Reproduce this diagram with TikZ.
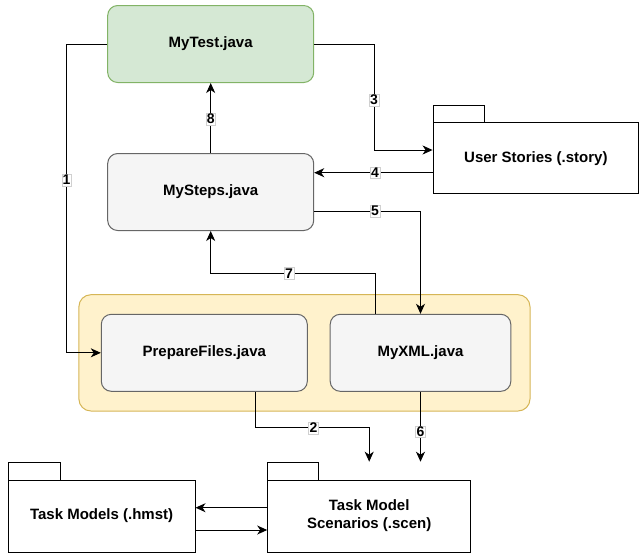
\documentclass[tikz,border=0pt]{standalone}
\usepackage{fontspec}
\setmainfont{Liberation Sans}
\usetikzlibrary{arrows.meta}
\definecolor{greenfill}{HTML}{D5E8D4}
\definecolor{greenline}{HTML}{82B366}
\definecolor{greyfill}{HTML}{F5F5F5}
\definecolor{greyline}{HTML}{666666}
\definecolor{yellowfill}{HTML}{FFF2CC}
\definecolor{yellowline}{HTML}{D6B656}
\definecolor{lblline}{HTML}{D0D0D0}
\begin{document}
\begin{tikzpicture}[x=1pt,y=-1pt,
  javabox/.style={draw=greyline, fill=greyfill, rounded corners=10pt, line width=1pt,
    minimum width=206pt, minimum height=77pt, inner sep=0pt, font=\fontsize{15}{17}\selectfont\bfseries},
  testbox/.style={javabox, draw=greenline, fill=greenfill},
  pkgbody/.style={draw=black, fill=white, line width=1pt, inner sep=0pt, align=center,
    font=\fontsize{15}{18}\selectfont\bfseries},
  pkgtab/.style={draw=black, fill=white, line width=1pt},
  conn/.style={draw=black, line width=1pt, -{Stealth[length=10pt,width=9pt,inset=3pt]}},
  lbl/.style={fill=white, draw=lblline, line width=0.4pt, inner sep=1pt,
    font=\fontsize{14}{15}\selectfont\bfseries}]
\useasboundingbox (0,0) rectangle (640,558);

% container
\draw[fill=yellowfill, draw=yellowline, line width=1pt, rounded corners=12pt]
  (78.9,294.7) rectangle (530,411);

% java nodes
\node[testbox] (MyTest) at (210.7,44) {MyTest.java};
\node[javabox] (MySteps) at (210.7,192) {MySteps.java};
\node[javabox] (Prep) at (204.3,352.8) {PrepareFiles.java};
\node[javabox, minimum width=180.6pt] (MyXML) at (420.5,352.8) {MyXML.java};

% packages
\draw[pkgtab] (433,105) rectangle (484.7,122.7);
\node[pkgbody, minimum width=205.7pt, minimum height=71.3pt] (US) at (535.9,158.3) {User Stories (.story)};
\draw[pkgtab] (8.2,462.3) rectangle (60,480);
\node[pkgbody, minimum width=186.8pt, minimum height=72pt] (TM) at (101.6,516) {Task Models (.hmst)};
\draw[pkgtab] (267.7,462.3) rectangle (318.8,480);
\node[pkgbody, minimum width=203pt, minimum height=72pt] (Scen) at (369.2,516) {Task Model\\Scenarios (.scen)};

% free ends
\coordinate (c1) at (66.6,44);
\coordinate (t2) at (369.2,461.7);
\coordinate (t6) at (420.5,461.7);

% connectors
\draw[conn] (MyTest.west) -- (c1) |- (Prep.west);
\draw[conn] (MyTest.east) -- (374,44) |- ([yshift=8.3pt]US.west);
\draw[conn] ([yshift=-14.4pt]US.west) -- ([yshift=19.3pt]MySteps.east);
\draw[conn] ([yshift=-19pt]MySteps.east) -| (MyXML.north);
\draw[conn] ([xshift=-45.5pt]MyXML.north) -- ++(0,-40.7) -| (MySteps.south);
\draw[conn] (MySteps.north) -- (MyTest.south);
\draw[conn] ([xshift=51.5pt]Prep.south) -- ++(0,35.3) -| (t2);
\draw[conn] (MyXML.south) -- (t6);
\draw[conn] ([yshift=8.3pt]Scen.west) -- ([yshift=8.3pt]TM.east);
\draw[conn] ([yshift=-14pt]TM.east) -- ([yshift=-14pt]Scen.west);

% labels
\node[lbl] (l1) at (66.6,180) {1};
\node[lbl] (l2) at (313.4,428) {2};
\node[lbl] (l3) at (374,100) {3};
\node[lbl] (l4) at (375,172.7) {4};
\node[lbl] (l5) at (375,211) {5};
\node[lbl] (l6) at (420.5,431.7) {6};
\node[lbl] (l7) at (289,273.3) {7};
\node[lbl] (l8) at (210.7,119) {8};
\end{tikzpicture}
\end{document}
